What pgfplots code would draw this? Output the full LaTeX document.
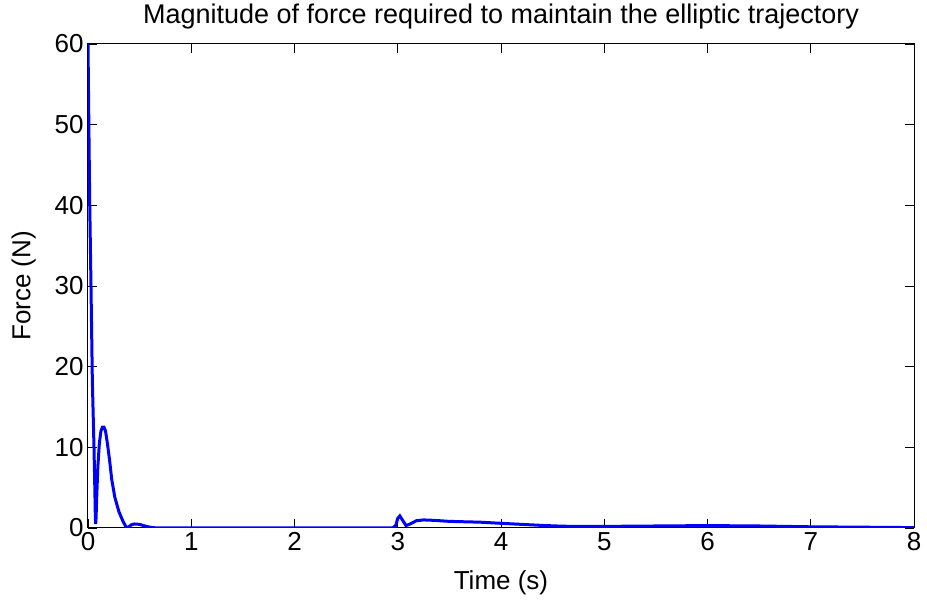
\documentclass[border=0pt]{standalone}
\usepackage{pgfplots}
\pgfplotsset{compat=1.18}
\usepackage{fontspec}
\setmainfont{Liberation Sans}
\begin{document}
\begin{tikzpicture}[x=1pt,y=1pt]
\begin{axis}[
  scale only axis,
  width=826pt, height=484pt,
  xmin=0, xmax=8, ymin=0, ymax=60,
  xtick={0,1,...,8}, ytick={0,10,...,60},
  tick align=inside,
  major tick length=9pt,
  tick style={line width=0.9pt, black},
  axis line style={line width=1pt},
  /pgf/number format/assume math mode=true,
  ticklabel style={font=\fontsize{26}{30}\selectfont},
  xticklabel style={yshift=-1pt},
  yticklabel style={xshift=-1pt},
  xlabel={Time (s)}, ylabel={Force (N)},
  label style={font=\fontsize{26}{30}\selectfont},
  xlabel style={yshift=-13pt},
  ylabel style={yshift=12pt},
  title={Magnitude of force required to maintain the elliptic trajectory},
  title style={font=\fontsize{27}{32}\selectfont, yshift=5pt},
]
\addplot[color={rgb,255:red,0;green,0;blue,255}, line width=3pt] coordinates {
(0,60) (0.005,54) (0.01,48) (0.017,40) (0.029,30) (0.042,18.3) (0.058,10) (0.066,5) (0.071,1.5) (0.074,0.5) (0.078,1.2) (0.085,4) (0.095,7.5) (0.11,10.5) (0.125,12) (0.14,12.5) (0.155,12.5) (0.17,12) (0.19,10.3) (0.21,8.3) (0.23,6) (0.26,3.8) (0.30,2) (0.34,0.8) (0.37,0.1) (0.39,0.1) (0.42,0.4) (0.45,0.5) (0.5,0.45) (0.55,0.25) (0.6,0.1) (0.65,0.02) (0.7,0) (2.95,0) (2.98,0.3) (3.0,1.2) (3.02,1.5) (3.05,0.9) (3.08,0.3) (3.12,0.5) (3.18,0.9) (3.25,1.0) (3.35,0.95) (3.5,0.82) (3.8,0.72) (4.0,0.58) (4.2,0.45) (4.4,0.32) (4.6,0.22) (4.8,0.2) (5.0,0.2) (5.5,0.25) (6.0,0.3) (6.5,0.25) (7.0,0.15) (7.5,0.1) (8.0,0.05)
};
\end{axis}
\pgfresetboundingbox
\path (current axis.south west) ++(-88pt,-78pt) coordinate (bl);
\path (current axis.north east) ++(13pt,44pt) coordinate (tr);
\path[use as bounding box] (bl) rectangle (tr);
\end{tikzpicture}
\end{document}
